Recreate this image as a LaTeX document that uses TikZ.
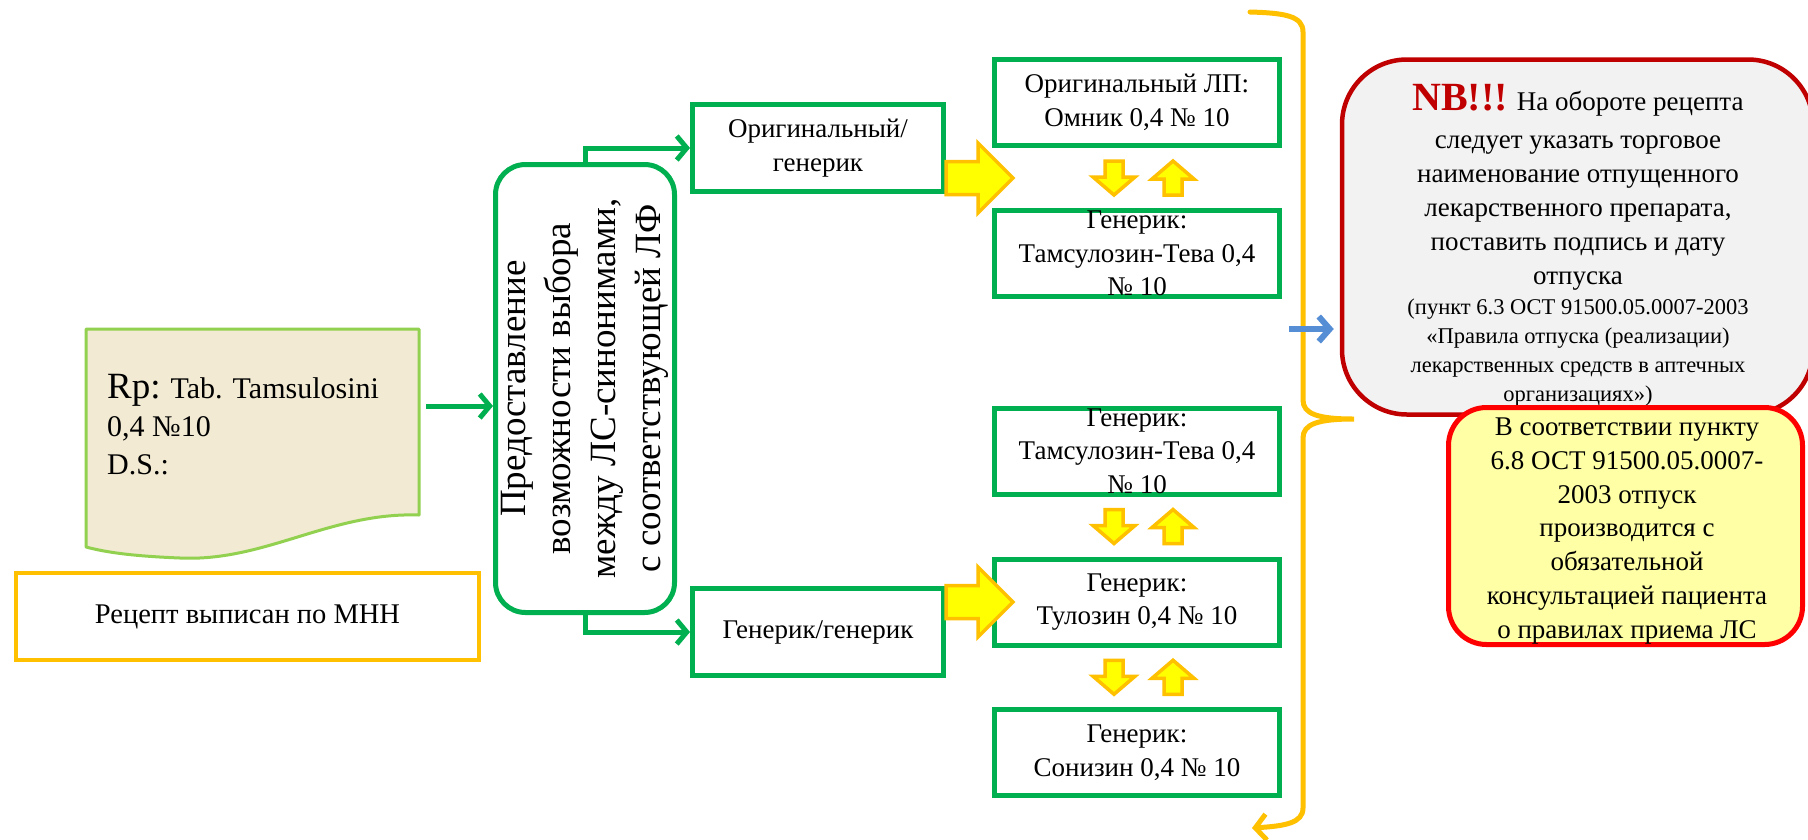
\documentclass[tikz,border=0pt]{standalone}
\usepackage{fontspec}
\setmainfont{Liberation Serif}
\usetikzlibrary{arrows.meta,calc}
\definecolor{rsink}{HTML}{000000}
\definecolor{rsgreen}{HTML}{00B050}
\definecolor{rslime}{HTML}{92D050}
\definecolor{rsgold}{HTML}{FFC000}
\definecolor{rsyellow}{HTML}{FFFF00}
\definecolor{rsdarkred}{HTML}{C00000}
\definecolor{rsred}{HTML}{FF0000}
\definecolor{rscream}{HTML}{FFFFA6}
\definecolor{rsgrey}{HTML}{F2F2F2}
\definecolor{rsblue}{HTML}{558ED5}
\definecolor{rsparch}{HTML}{F2EAD3}
\newcommand{\rsfont}[2]{\fontsize{#1}{#2}\selectfont}
\tikzset{
  rs text/.style={font=\rsfont{27}{33.5}, text=rsink},
  rs box/.style={draw=rsgreen, line width=5pt, fill=white, inner sep=0pt,
    align=center, rs text},
  rs col box/.style={rs box, minimum width=285pt, minimum height=86pt},
  rs opt box/.style={rs box, minimum width=251pt, minimum height=87pt},
  rs arrow/.style={-{Straight Barb[length=10pt,width=24pt]}, line width=5pt,
    draw=rsgreen},
  rs blue arrow/.style={-{Straight Barb[length=11pt,width=25pt]}, line width=6pt,
    draw=rsblue},
  rs brace/.style={draw=rsgold, line width=5pt, line cap=round,
    -{Straight Barb[length=11pt,width=26pt]}},
  rs block/.style={fill=rsyellow, draw=rsgold, line width=3.5pt, line join=miter},
  big arr/.pic={\path[rs block] (0,-16.5) -- (32,-16.5) -- (32,-35) -- (67,0)
    -- (32,35) -- (32,16.5) -- (0,16.5) -- cycle;},
  down arr/.pic={\path[rs block] (-9,-17) -- (9,-17) -- (9,-1) -- (21,-1)
    -- (0,17) -- (-21,-1) -- (-9,-1) -- cycle;},
  up arr/.pic={\path[rs block] (-9,17) -- (9,17) -- (9,1) -- (21,1)
    -- (0,-17) -- (-21,1) -- (-9,1) -- cycle;}
}

\begin{document}
\begin{tikzpicture}[x=1pt, y=-1pt, rs text]
  \useasboundingbox (0,0) rectangle (1808,839);
  \clip (0,0) rectangle (1808,839);
  \fill[white] (0,0) rectangle (1808,839);

  % prescription sheet
  \filldraw[fill=rsparch, draw=rslime, line width=3pt, line join=round]
    (86,329) -- (419,329) -- (419,515) .. controls (330,512) and (265,562) .. (180,558)
    .. controls (130,556) and (105,552) .. (86,547) -- cycle;
  \node[anchor=north west, align=left, inner sep=0pt, font=\rsfont{30}{38}] (rp) at (107,374.5)
    {{\rsfont{37}{38}Rp:} Tab. Tamsulosini\\0,4 №10\\D.S.:};
  \coordinate (docout) at (426,406);
  \node[draw=rsgold, line width=4pt, fill=white, inner sep=0pt, minimum width=463pt,
    minimum height=87pt, font=\rsfont{28.5}{34}] (mnn) at (247.5,616.5) {Рецепт выписан по МНН};

  % choice between synonyms
  \node[rs box, rounded corners=30pt, rotate=90, minimum width=448pt, minimum height=179pt,
    font=\rsfont{37}{45}] (choice) at (585,388.5)
    {Предоставление\\возможности выбора\\между ЛС-синонимами,\\с соответствующей ЛФ};
  \node[rs opt box] (orig) at (818,148) {Оригинальный/\\генерик};
  \node[rs opt box] (gener) at (818,632) {Генерик/генерик};
  \draw[rs arrow] (docout) -- (docout -| choice.north);
  \draw[rs arrow] (choice.east) |- (orig.west);
  \draw[rs arrow] (choice.west) |- (gener.west);

  % trade names
  \node[rs col box] (b1) at (1137,102.5) {Оригинальный ЛП:\\Омник 0,4 № 10};
  \node[rs col box] (b2) at (1137,253.5) {Генерик:\\Тамсулозин-Тева 0,4\\№ 10};
  \node[rs col box] (b3) at (1137,451) {Генерик:\\Тамсулозин-Тева 0,4\\№ 10};
  \node[rs col box] (b4) at (1137,602) {Генерик:\\Тулозин 0,4 № 10};
  \node[rs col box] (b5) at (1137,752.5) {Генерик:\\Сонизин 0,4 № 10};
  \coordinate (g1) at ($(b1.south)!0.5!(b2.north)$);
  \pic at (orig.east |- g1) {big arr};
  \pic at (gener.east |- b4.west) {big arr};
  \foreach \bxa/\bxb in {b1/b2, b3/b4, b4/b5} {
    \coordinate (gap) at ($(\bxa.south)!0.5!(\bxb.north)$);
    \pic at ($(gap)+(-23,0)$) {down arr};
    \pic at ($(gap)+(36,0)$) {up arr};
  }

  % notes
  \node[draw=rsdarkred, line width=4.5pt, fill=rsgrey, rounded corners=65pt,
    minimum width=471pt, minimum height=355pt] (nb) at (1577.5,237) {};
  \node[anchor=north, align=center, inner sep=0pt, font=\rsfont{27}{34}] (nbmain) at (1578,84.5)
    {{\rsfont{40}{34}\bfseries\color{rsdarkred}NB!!!} На обороте рецепта\\[4pt]
     следует указать торговое\\наименование отпущенного\\лекарственного препарата,\\
     поставить подпись и дату\\отпуска};
  \node[anchor=north, align=center, inner sep=0pt, font=\rsfont{22.5}{29}] (nbref) at (1578,298.5)
    {(пункт 6.3 ОСТ 91500.05.0007-2003\\«Правила отпуска (реализации)\\
     лекарственных средств в аптечных\\организациях»)};
  \node[draw=rsred, line width=5pt, fill=rscream, rounded corners=38pt,
    minimum width=354pt, minimum height=237pt] (yb) at (1625.5,526) {};
  \node[align=center, inner sep=0pt, font=\rsfont{27}{33.7}] (ybtext) at (1627,531)
    {В соответствии пункту\\6.8 ОСТ 91500.05.0007-\\2003 отпуск\\
     производится с\\обязательной\\консультацией пациента\\о правилах приема ЛС};

  % brace
  \draw[rs brace] (1250,12) .. controls (1285,13) and (1303,16) .. (1303,32) -- (1303,400)
    .. controls (1303,414) and (1318,419) .. (1354,419)
    .. controls (1318,419) and (1303,424) .. (1303,438) -- (1303,808)
    .. controls (1303,823) and (1285,826) .. (1252,828);
  \coordinate (bracept) at (1289,329);
  \draw[rs blue arrow, shorten >=6pt] (bracept) -- (bracept -| nb.west);
\end{tikzpicture}
\end{document}
